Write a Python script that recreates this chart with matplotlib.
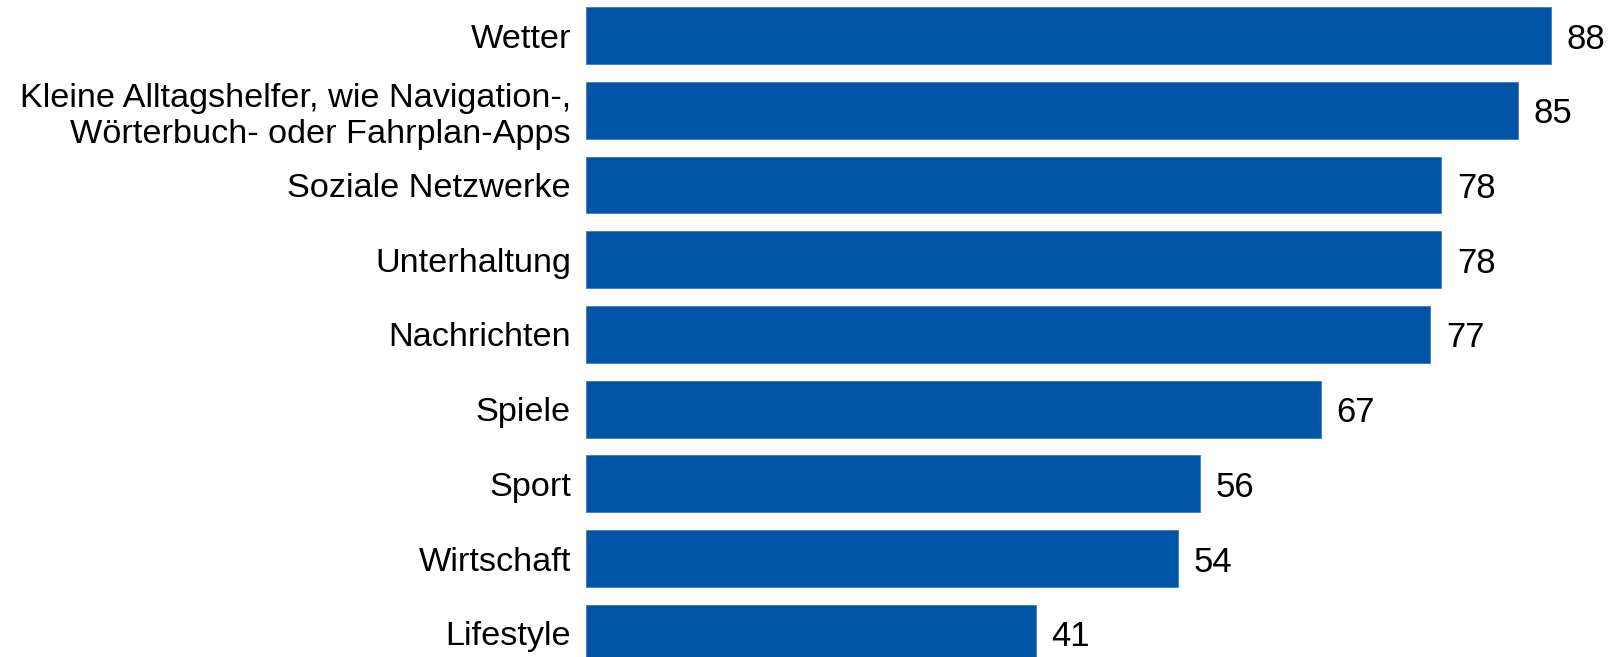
import matplotlib.pyplot as plt

categories = ['Wetter',
              'Kleine Alltagshelfer, wie Navigation-,\nWörterbuch- oder Fahrplan-Apps',
              'Soziale Netzwerke', 'Unterhaltung', 'Nachrichten', 'Spiele',
              'Sport', 'Wirtschaft', 'Lifestyle']
values = [88, 85, 78, 78, 77, 67, 56, 54, 41]

plt.rcParams['font.family'] = ['Liberation Sans', 'DejaVu Sans']

fig = plt.figure(figsize=(16.21, 6.57), dpi=100)
# axes fill the figure from the bar start to the right edge
ax = fig.add_axes([586 / 1621, 0, 1 - 586 / 1621, 1])

pos = list(range(len(categories)))
bars = ax.barh(pos, values, height=0.76, color='#0054A6', edgecolor='#3a7cc0', linewidth=0.6)

ax.set_xlim(0, 94.4)
ax.set_ylim(8.318, -0.477)
ax.set_yticks(pos)
ax.set_yticklabels(categories, fontsize=24.7, linespacing=1.2)
ax.tick_params(axis='y', length=0, pad=10.8)
ax.set_xticks([])
for s in ax.spines.values():
    s.set_visible(False)

# value labels right of the bars
for p, v in zip(pos, values):
    ax.annotate(str(v), (v, p), xytext=(11.5, 0), textcoords='offset points',
                ha='left', va='center_baseline', fontsize=25)

fig.savefig('out.png', dpi=100)
